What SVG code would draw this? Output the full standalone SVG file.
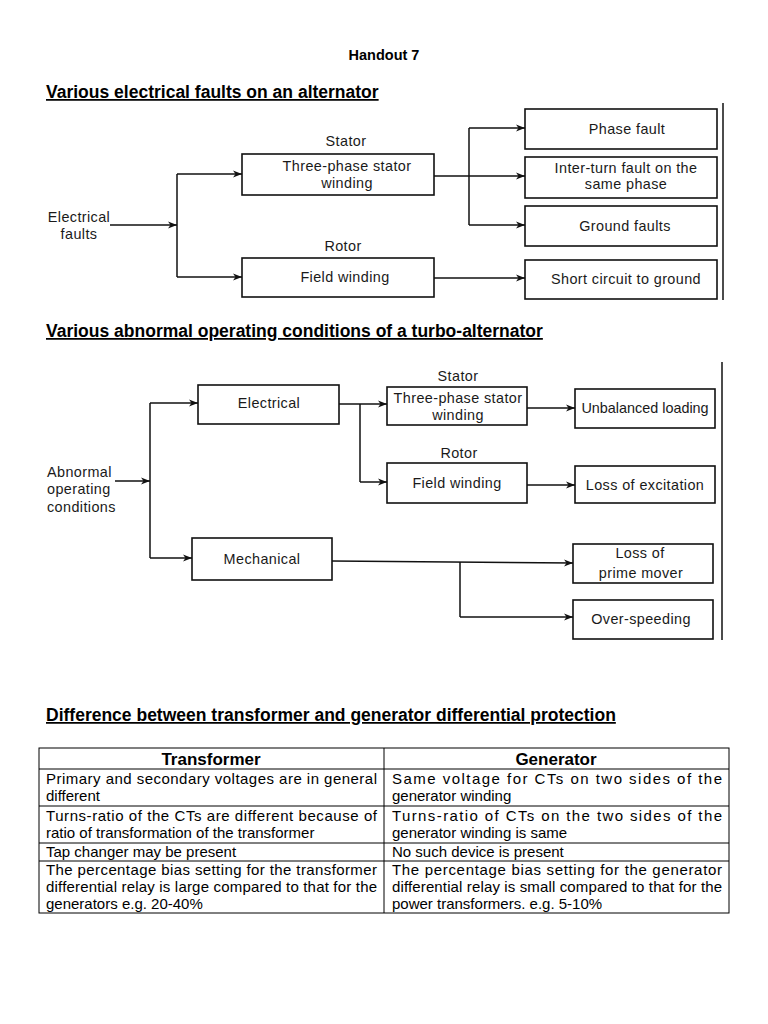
<svg xmlns="http://www.w3.org/2000/svg" width="768" height="1024" viewBox="0 0 768 1024">
<style>
  .t { font-family: "Liberation Sans", Arial, sans-serif; fill: #000; }
  .h { font-weight: bold; font-size: 17.5px; text-decoration: underline; }
  .d { font-family: "Liberation Sans", Arial, sans-serif; font-size: 14.4px; fill: #1a1a1a; letter-spacing: 0.4px; text-anchor: middle; }
  .dt { letter-spacing: 0px; }
  .dl { text-anchor: start; }
  .box { fill: #fff; stroke: #111; stroke-width: 1.6; }
  .ln { fill: none; stroke: #111; stroke-width: 1.5; }
  .arr { fill: none; stroke: #111; stroke-width: 1.5; marker-end: url(#ah); }
  .tb { fill: none; stroke: #000; stroke-width: 1; }
  .c { font-family: "Liberation Sans", Arial, sans-serif; font-size: 15px; fill: #000; }
  .ch { font-family: "Liberation Sans", Arial, sans-serif; font-size: 17px; font-weight: bold; fill: #000; text-anchor: middle; }
</style>
<defs>
  <marker id="ah" markerUnits="userSpaceOnUse" markerWidth="10" markerHeight="8" refX="9" refY="4" orient="auto">
    <path d="M0,0.5 L9,4 L0,7.5 L2.5,4 Z" fill="#111"/>
  </marker>
</defs>
<rect width="768" height="1024" fill="#fff"/>

<text class="t" x="384" y="60" font-size="14.5" font-weight="bold" text-anchor="middle">Handout 7</text>
<text class="t h" x="46" y="98">Various electrical faults on an alternator</text>

<!-- Diagram 1 -->
<g id="d1-decor">
  <line class="ln" x1="723" y1="103" x2="723" y2="300" stroke-width="1.2"/>
</g>
<g id="d1-input">
  <text class="d" x="79" y="222">Electrical</text>
  <text class="d" x="79" y="239">faults</text>
</g>
<g id="d1-stator">
  <text class="d" x="346" y="146">Stator</text>
  <rect class="box" x="242" y="154" width="192" height="41"/>
  <text class="d" x="347" y="171">Three-phase stator</text>
  <text class="d" x="347" y="188">winding</text>
</g>
<g id="d1-rotor">
  <text class="d" x="343" y="251">Rotor</text>
  <rect class="box" x="242" y="258" width="192" height="39"/>
  <text class="d" x="345" y="282">Field winding</text>
</g>
<g id="d1-phase">
  <rect class="box" x="525" y="109" width="192" height="40"/>
  <text class="d" x="627" y="134">Phase fault</text>
</g>
<g id="d1-interturn">
  <rect class="box" x="525" y="157" width="192" height="41"/>
  <text class="d" x="626" y="173">Inter-turn fault on the</text>
  <text class="d" x="626" y="189">same phase</text>
</g>
<g id="d1-ground">
  <rect class="box" x="525" y="206" width="192" height="40"/>
  <text class="d" x="625" y="231">Ground faults</text>
</g>
<g id="d1-short">
  <rect class="box" x="525" y="260" width="192" height="39"/>
  <text class="d" x="626" y="284">Short circuit to ground</text>
</g>
<g id="d1-connectors">
  <line class="arr" x1="110" y1="225" x2="177" y2="225"/>
  <line class="ln" x1="177" y1="174" x2="177" y2="277"/>
  <line class="arr" x1="177" y1="174" x2="242" y2="174"/>
  <line class="arr" x1="177" y1="277" x2="242" y2="277"/>
  <line class="ln" x1="434" y1="176" x2="469" y2="176"/>
  <line class="ln" x1="469" y1="128" x2="469" y2="225"/>
  <line class="arr" x1="469" y1="128" x2="525" y2="128"/>
  <line class="arr" x1="469" y1="176" x2="525" y2="176"/>
  <line class="arr" x1="469" y1="225" x2="525" y2="225"/>
  <line class="arr" x1="434" y1="278" x2="525" y2="278"/>
</g>

<text class="t h" x="46" y="337">Various abnormal operating conditions of a turbo-alternator</text>

<!-- Diagram 2 -->
<g id="d2-decor">
  <line class="ln" x1="722" y1="362" x2="722" y2="640" stroke-width="1.2"/>
</g>
<g id="d2-input">
  <text class="d dl" x="47" y="477">Abnormal</text>
  <text class="d dl" x="47" y="494">operating</text>
  <text class="d dl" x="47" y="512">conditions</text>
</g>
<g id="d2-electrical">
  <rect class="box" x="198" y="385" width="141" height="39"/>
  <text class="d" x="269" y="408">Electrical</text>
</g>
<g id="d2-mechanical">
  <rect class="box" x="192" y="538" width="140" height="42"/>
  <text class="d" x="262" y="564">Mechanical</text>
</g>
<g id="d2-stator">
  <text class="d" x="458" y="381">Stator</text>
  <rect class="box" x="387" y="387" width="140" height="38"/>
  <text class="d" x="458" y="403">Three-phase stator</text>
  <text class="d" x="458" y="420">winding</text>
</g>
<g id="d2-rotor">
  <text class="d" x="459" y="458">Rotor</text>
  <rect class="box" x="387" y="463" width="140" height="40"/>
  <text class="d" x="457" y="488">Field winding</text>
</g>
<g id="d2-unbalanced">
  <rect class="box" x="575" y="389" width="140" height="39"/>
  <text class="d dt" x="645" y="413">Unbalanced loading</text>
</g>
<g id="d2-excitation">
  <rect class="box" x="575" y="466" width="140" height="37"/>
  <text class="d" x="645" y="490">Loss of excitation</text>
</g>
<g id="d2-primemover">
  <rect class="box" x="573" y="544" width="140" height="39"/>
  <text class="d" x="640" y="558">Loss of</text>
  <text class="d" x="641" y="578">prime mover</text>
</g>
<g id="d2-overspeed">
  <rect class="box" x="573" y="600" width="140" height="39"/>
  <text class="d" x="641" y="624">Over-speeding</text>
</g>
<g id="d2-connectors">
  <line class="arr" x1="115" y1="481" x2="150" y2="481"/>
  <line class="ln" x1="150" y1="403" x2="150" y2="558"/>
  <line class="arr" x1="150" y1="403" x2="198" y2="403"/>
  <line class="arr" x1="150" y1="558" x2="192" y2="558"/>
  <line class="ln" x1="339" y1="404" x2="360" y2="404"/>
  <line class="ln" x1="360" y1="404" x2="360" y2="482"/>
  <line class="arr" x1="360" y1="404" x2="387" y2="404"/>
  <line class="arr" x1="360" y1="482" x2="387" y2="482"/>
  <line class="arr" x1="527" y1="408" x2="575" y2="408"/>
  <line class="arr" x1="527" y1="485" x2="575" y2="485"/>
  <line class="arr" x1="332" y1="561" x2="573" y2="563"/>
  <line class="ln" x1="460" y1="562" x2="460" y2="617"/>
  <line class="arr" x1="460" y1="617" x2="573" y2="617"/>
</g>

<text class="t h" x="46" y="721">Difference between transformer and generator differential protection</text>

<!-- Table -->
<g id="table">
  <rect class="tb" x="39" y="748" width="690" height="165"/>
  <line class="tb" x1="384" y1="748" x2="384" y2="913"/>
  <line class="tb" x1="39" y1="769" x2="729" y2="769"/>
  <line class="tb" x1="39" y1="806" x2="729" y2="806"/>
  <line class="tb" x1="39" y1="843" x2="729" y2="843"/>
  <line class="tb" x1="39" y1="861" x2="729" y2="861"/>

  <text class="ch" x="211" y="765">Transformer</text>
  <text class="ch" x="556" y="765">Generator</text>

  <text class="c" x="46" y="784" textLength="331" lengthAdjust="spacing">Primary and secondary voltages are in general</text>
  <text class="c" x="46" y="801">different</text>
  <text class="c" x="392" y="784" textLength="330" lengthAdjust="spacing">Same voltage for CTs on two sides of the</text>
  <text class="c" x="392" y="801">generator winding</text>

  <text class="c" x="46" y="821" textLength="331" lengthAdjust="spacing">Turns-ratio of the CTs are different because of</text>
  <text class="c" x="46" y="838">ratio of transformation of the transformer</text>
  <text class="c" x="392" y="821" textLength="330" lengthAdjust="spacing">Turns-ratio of CTs on the two sides of the</text>
  <text class="c" x="392" y="838">generator winding is same</text>

  <text class="c" x="46" y="857">Tap changer may be present</text>
  <text class="c" x="392" y="857">No such device is present</text>

  <text class="c" x="46" y="875" textLength="331" lengthAdjust="spacing">The percentage bias setting for the transformer</text>
  <text class="c" x="46" y="892" textLength="331" lengthAdjust="spacing">differential relay is large compared to that for the</text>
  <text class="c" x="46" y="909">generators e.g. 20-40%</text>
  <text class="c" x="392" y="875" textLength="330" lengthAdjust="spacing">The percentage bias setting for the generator</text>
  <text class="c" x="392" y="892" textLength="330" lengthAdjust="spacing">differential relay is small compared to that for the</text>
  <text class="c" x="392" y="909">power transformers. e.g. 5-10%</text>
</g>
</svg>
